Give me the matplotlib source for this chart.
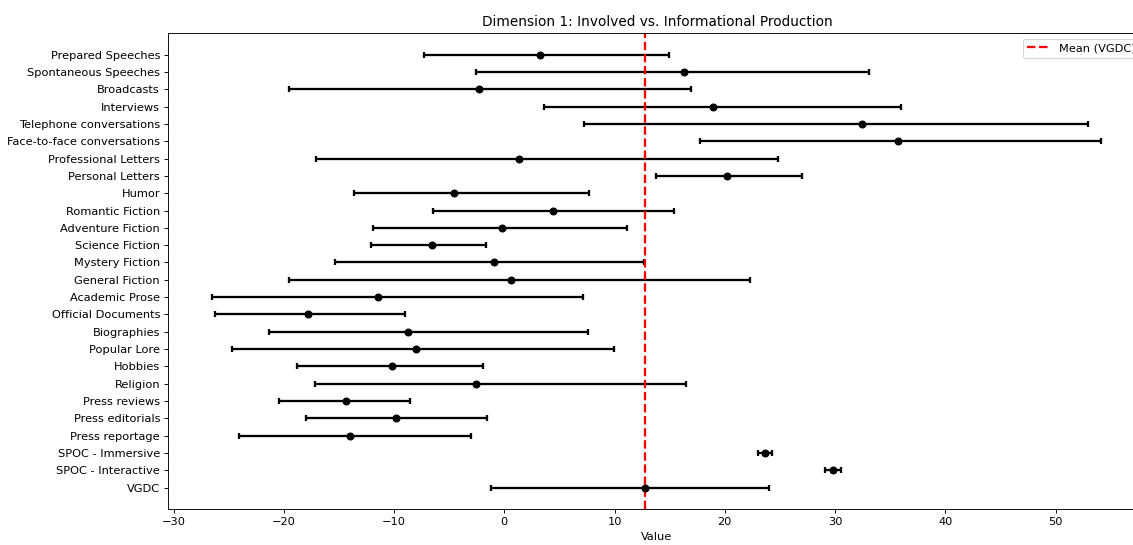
import matplotlib
matplotlib.use("Agg")
import matplotlib.pyplot as plt
import numpy as np

categories = ['Prepared Speeches', 'Spontaneous Speeches', 'Broadcasts', 'Interviews',
              'Telephone conversations', 'Face-to-face conversations', 'Professional Letters',
              'Personal Letters', 'Humor', 'Romantic Fiction', 'Adventure Fiction',
              'Science Fiction', 'Mystery Fiction', 'General Fiction', 'Academic Prose',
              'Official Documents', 'Biographies', 'Popular Lore', 'Hobbies', 'Religion',
              'Press reviews', 'Press editorials', 'Press reportage', 'SPOC - Immersive',
              'SPOC - Interactive', 'VGDC']
centers = [3.26, 16.29, -2.27, 18.89, 32.43, 35.69, 1.30, 20.16, -4.59, 4.44, -0.24,
           -6.59, -0.97, 0.63, -11.45, -17.83, -8.76, -8.01, -10.21, -2.54, -14.32,
           -9.82, -14.02, 23.66, 29.80, 12.72]
lower = [-7.25, -2.54, -19.52, 3.57, 7.25, 17.74, -17.10, 13.78, -13.66, -6.44, -11.88,
         -12.12, -15.38, -19.52, -26.47, -26.23, -21.34, -24.66, -18.83, -17.17, -20.43,
         -18.01, -24.08, 23.00, 29.10, -1.18]
upper = [14.90, 33.12, 16.95, 36.02, 52.92, 54.13, 24.84, 26.99, 7.68, 15.35, 11.15,
         -1.63, 12.66, 22.30, 7.13, -9.04, 7.58, 9.94, -1.93, 16.50, -8.55,
         -1.54, -3.05, 24.27, 30.53, 24.03]
mean_vgdc = 12.72

centers = np.array(centers)
xerr = [centers - np.array(lower), np.array(upper) - centers]
y = np.arange(len(categories))

# reference looks like a bigger figure shrunk down, so draw at 82 dpi
dpi = 82
fig = plt.figure(figsize=(1133 / dpi, 545 / dpi), dpi=dpi)
ax = fig.add_axes([0.1483, 0.0655, 0.8632, 0.874])

ax.errorbar(centers, y, xerr=xerr, fmt='o', color='black', ecolor='black',
            elinewidth=2, capsize=3, capthick=2, markersize=6)
ax.axvline(mean_vgdc, color='red', linestyle='--', linewidth=2, label='Mean (VGDC)')

ax.set_yticks(y)
ax.set_yticklabels(categories)
ax.invert_yaxis()
ax.set_xlim(-30.5, 58.2)
ax.set_xlabel('Value')
ax.set_title('Dimension 1: Involved vs. Informational Production')
ax.legend(loc='upper right')

fig.savefig('out.png', dpi=dpi)
